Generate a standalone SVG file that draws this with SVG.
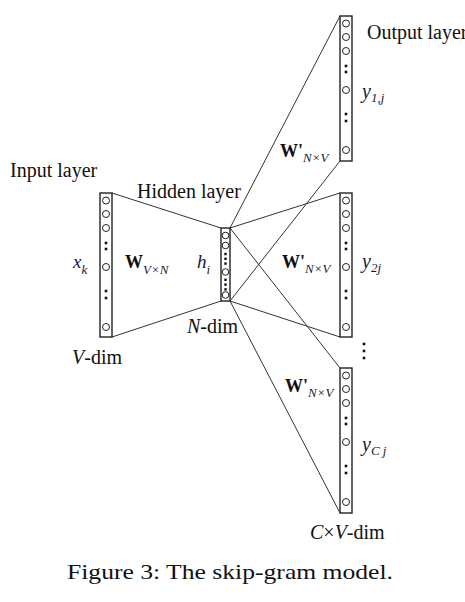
<svg xmlns="http://www.w3.org/2000/svg" width="465" height="602" viewBox="0 0 465 602">
<style>
.lbl{font-family:"Liberation Serif","Times New Roman",serif;font-size:20px;fill:#111}
.it{font-family:"Liberation Serif","Times New Roman",serif;font-style:italic;font-weight:normal;fill:#1a1a2e}
.bw{font-family:"Liberation Serif","Times New Roman",serif;font-weight:bold;font-size:18px;fill:#111}
.sub{font-size:13px}
.col{fill:#fff;stroke:#222;stroke-width:1.4}
.n{fill:#fff;stroke:#222;stroke-width:1}
.d{fill:#111}
.ln{stroke:#333;stroke-width:1;fill:none}
.cap{font-family:"Liberation Serif","Times New Roman",serif;font-size:21px;fill:#111}
</style>
<defs>
<g id="colcells">
<circle class="n" cx="6" cy="7.5" r="3.5"/>
<circle class="n" cx="6" cy="21" r="3.5"/>
<circle class="n" cx="6" cy="35" r="3.5"/>
<rect class="d" x="4.7" y="48.7" width="2.6" height="2.6"/>
<rect class="d" x="4.7" y="54.7" width="2.6" height="2.6"/>
<circle class="n" cx="6" cy="74" r="3.5"/>
<rect class="d" x="4.7" y="96.7" width="2.6" height="2.6"/>
<rect class="d" x="4.7" y="103.7" width="2.6" height="2.6"/>
<circle class="n" cx="6" cy="134" r="3.5"/>
</g>
</defs>
<g id="connectors">
<line class="ln" x1="112" y1="193" x2="221" y2="228"/>
<line class="ln" x1="112" y1="337" x2="221" y2="301"/>
<line class="ln" x1="230" y1="228" x2="340" y2="16"/>
<line class="ln" x1="230" y1="301" x2="340" y2="161"/>
<line class="ln" x1="230" y1="228" x2="340" y2="193"/>
<line class="ln" x1="230" y1="301" x2="340" y2="337"/>
<line class="ln" x1="230" y1="228" x2="340" y2="368"/>
<line class="ln" x1="230" y1="301" x2="340" y2="513"/>
</g>
<g id="input">
<rect class="col" x="100" y="193" width="12" height="144"/>
<use href="#colcells" x="100" y="193"/>
<text class="lbl" x="10" y="177">Input layer</text>
<text class="it" x="73" y="268" font-size="19">x<tspan class="sub" dy="6">k</tspan></text>
<text class="lbl" x="72" y="364"><tspan font-style="italic">V</tspan>-dim</text>
</g>
<g id="w-in">
<text class="bw" x="125" y="268">W<tspan class="it sub" dy="6">V×N</tspan></text>
</g>
<g id="hidden">
<rect class="col" x="221" y="228" width="9" height="73"/>
<circle class="n" cx="225.5" cy="235.5" r="3.3"/>
<circle class="n" cx="225.5" cy="245.5" r="3.3"/>
<rect class="d" x="224.3" y="252.8" width="2.4" height="2.4"/>
<rect class="d" x="224.3" y="257.6" width="2.4" height="2.4"/>
<rect class="d" x="224.3" y="262.4" width="2.4" height="2.4"/>
<circle class="n" cx="225.5" cy="272" r="3.3"/>
<rect class="d" x="224.3" y="278.6" width="2.4" height="2.4"/>
<rect class="d" x="224.3" y="283.4" width="2.4" height="2.4"/>
<rect class="d" x="224.3" y="288.2" width="2.4" height="2.4"/>
<circle class="n" cx="225.5" cy="295" r="3.3"/>
<text class="lbl" x="137" y="198">Hidden layer</text>
<text class="it" x="197" y="268" font-size="19">h<tspan class="sub" dy="6">i</tspan></text>
<text class="lbl" x="187" y="333"><tspan font-style="italic">N</tspan>-dim</text>
</g>
<g id="output1">
<rect class="col" x="340" y="16" width="12" height="145"/>
<use href="#colcells" x="340" y="16"/>
<text class="lbl" x="367" y="39">Output layer</text>
<text class="it" x="362" y="98" font-size="20">y<tspan class="sub" dy="4">1,j</tspan></text>
<text class="bw" x="280" y="157">W'<tspan class="it sub" dy="5">N×V</tspan></text>
</g>
<g id="output2">
<rect class="col" x="340" y="193" width="12" height="144"/>
<use href="#colcells" x="340" y="193"/>
<text class="it" x="362" y="268" font-size="20">y<tspan class="sub" dy="4">2j</tspan></text>
<text class="bw" x="282" y="268">W'<tspan class="it sub" dy="5">N×V</tspan></text>
</g>
<g id="ellipsis">
<rect class="d" x="362.7" y="342.7" width="2.6" height="2.6"/>
<rect class="d" x="362.7" y="349.7" width="2.6" height="2.6"/>
<rect class="d" x="362.7" y="356.7" width="2.6" height="2.6"/>
</g>
<g id="output3">
<rect class="col" x="340" y="368" width="12" height="145"/>
<use href="#colcells" x="340" y="368"/>
<text class="it" x="362" y="451" font-size="20">y<tspan class="sub" dy="4">C j</tspan></text>
<text class="bw" x="285" y="392">W'<tspan class="it sub" dy="5">N×V</tspan></text>
<text class="lbl" x="310" y="539"><tspan font-style="italic">C</tspan>×<tspan font-style="italic">V</tspan>-dim</text>
</g>
<text class="cap" x="67" y="579" textLength="326" lengthAdjust="spacingAndGlyphs">Figure 3: The skip-gram model.</text>
</svg>
